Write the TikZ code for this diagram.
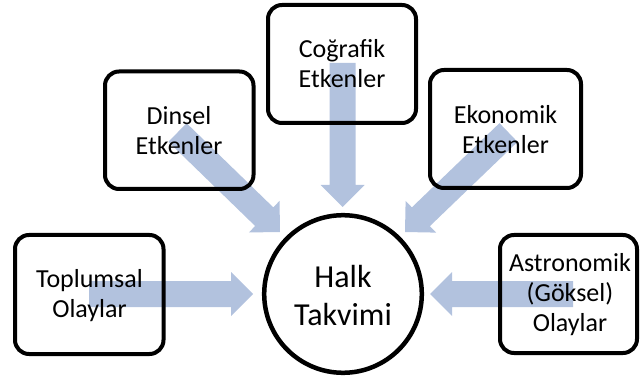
\documentclass[tikz,border=0pt]{standalone}
\usepackage{fontspec}
\setmainfont{Carlito}
\usetikzlibrary{calc}
\definecolor{arrowblue}{RGB}{178,194,222}
\newcommand{\blockarrow}[2]{%
  \coordinate (hb) at ($(#2)!22pt!(#1)$);
  \fill[arrowblue] ($(#1)!13pt!90:(#2)$) -- ($(hb)!13pt!-90:(#1)$) -- ($(hb)!22pt!-90:(#1)$) -- (#2)
    -- ($(hb)!22pt!90:(#1)$) -- ($(hb)!13pt!90:(#1)$) -- ($(#1)!13pt!-90:(#2)$) -- cycle;}
\tikzset{
  box/.style={draw=black, line width=4pt, rounded corners=14pt},
  boxtext/.style={align=center, font=\fontsize{26}{30}\selectfont, inner sep=0pt},
}
\begin{document}
\begin{tikzpicture}[x=1pt,y=-1pt]
\useasboundingbox (0,0) rectangle (640,382);
% arrow anchors
\coordinate (sTop) at (89,294);   \coordinate (tTop) at (253,294);
\coordinate (sAst) at (573,294);  \coordinate (tAst) at (430,294);
\coordinate (sCog) at (342.5,63); \coordinate (tCog) at (342.5,207);
\coordinate (sDin) at (177.5,132.5); \coordinate (tDin) at (280,232);
\coordinate (sEko) at (508.5,132.5); \coordinate (tEko) at (405,232);
\blockarrow{sTop}{tTop}
\blockarrow{sAst}{tAst}
\blockarrow{sCog}{tCog}
\blockarrow{sDin}{tDin}
\blockarrow{sEko}{tEko}
% boxes
\draw[box] (15,235) rectangle (163.5,354);
\draw[box] (500,235) rectangle (637,353);
\draw[box] (105,71.5) rectangle (253.5,189);
\draw[box] (268,5) rectangle (416,123);
\draw[box] (430,70) rectangle (581,188);
\draw[line width=4.5pt, fill=white] (343,294) circle (78.8);
% texts
\node[boxtext] (top) at (89.5,296) {Toplumsal\\Olaylar};
\node[boxtext] (ast) at (570,295) {Astronomik\\(Göksel)\\Olaylar};
\node[boxtext] (din) at (179,131) {Dinsel\\Etkenler};
\node[boxtext] (cog) at (342,64) {Coğrafik\\Etkenler};
\node[boxtext] (eko) at (505.5,130) {Ekonomik\\Etkenler};
\node[align=center, font=\fontsize{32}{38}\selectfont, inner sep=0pt] (halk) at (343,296) {Halk\\Takvimi};
\end{tikzpicture}
\end{document}
